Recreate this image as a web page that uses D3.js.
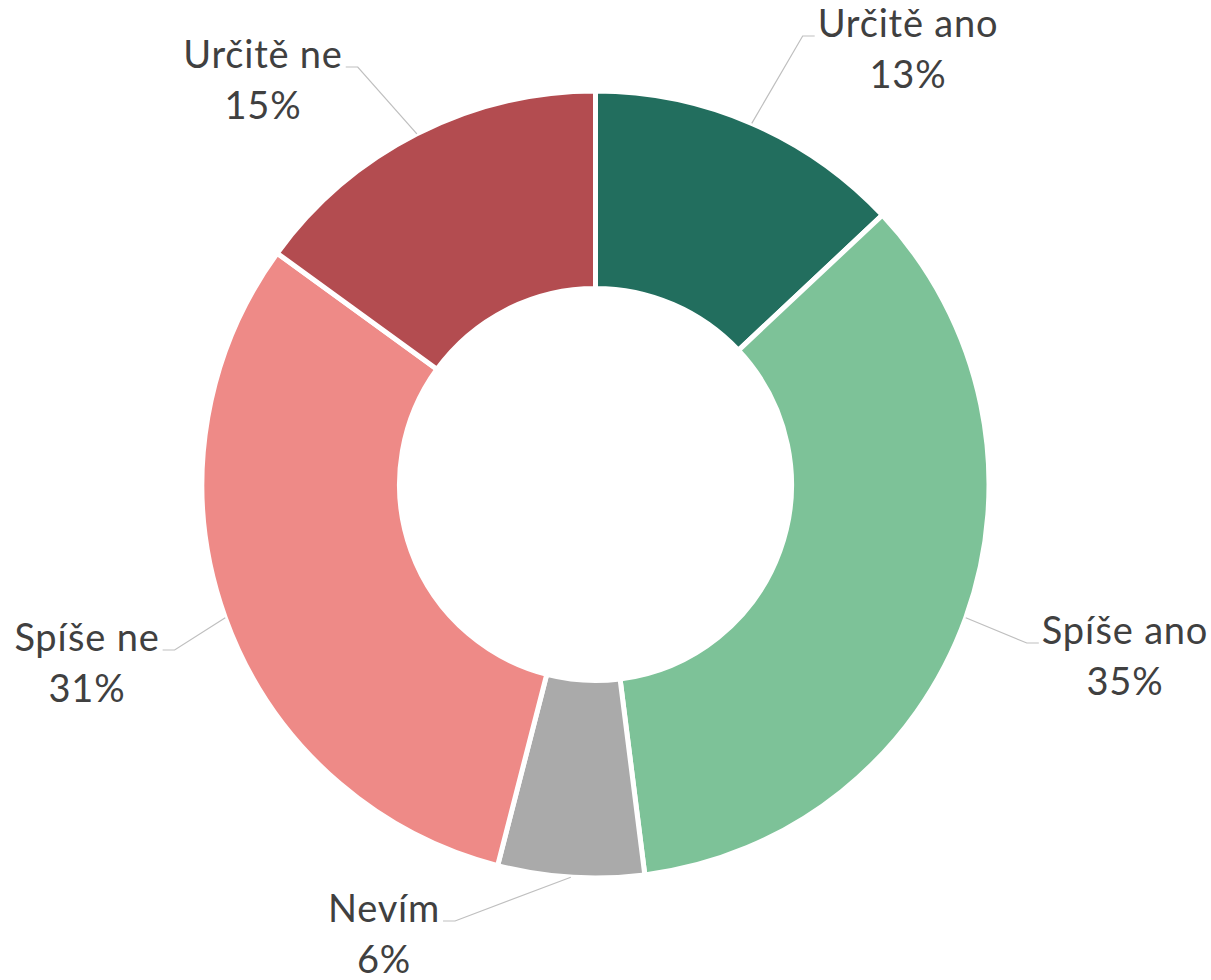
<!DOCTYPE html>
<html>
<head>
<meta charset="utf-8">
<script src="https://cdn.jsdelivr.net/npm/d3@7"></script>
<style>
  html, body { margin: 0; padding: 0; background: #fff; }
  svg { display: block; }
</style>
</head>
<body>
<svg id="chart" width="1211" height="980"></svg>
<script>
// ---- data ----
const categories = ["Určitě ano", "Spíše ano", "Nevím", "Spíše ne", "Určitě ne"];
const values = [13, 35, 6, 31, 15];
const percentLabels = ["13%", "35%", "6%", "31%", "15%"];
const colors = ["#226E5E", "#7DC298", "#AAAAAA", "#EE8A87", "#B34C50"];

// ---- layout (label anchors: centre x, first baseline, side of leader) ----
const labelLayout = [
  { cx: 908, y: 37, side: "right" },
  { cx: 1125, y: 644, side: "right" },
  { cx: 384, y: 922, side: "left" },
  { cx: 87, y: 651, side: "left" },
  { cx: 263, y: 68, side: "left" }
];

const W = 1211, H = 980;
const cx = 595.5, cy = 484.5;
const outerR = 393.5, innerR = 196;

const svg = d3.select("#chart");
const g = svg.append("g").attr("transform", `translate(${cx},${cy})`);

const pie = d3.pie().sort(null).value(d => d.v);
const data = categories.map((c, i) => ({ c, v: values[i], p: percentLabels[i], col: colors[i], i }));
const arcs = pie(data);
const arc = d3.arc().innerRadius(innerR).outerRadius(outerR);

g.selectAll("path.slice")
  .data(arcs)
  .join("path")
  .attr("class", "slice")
  .attr("d", arc)
  .attr("fill", d => d.data.col)
  .attr("stroke", "#fff")
  .attr("stroke-width", 5)
  .attr("stroke-linejoin", "miter");

// labels
const lab = svg.append("g");
arcs.forEach((a, i) => {
  const L = labelLayout[i];
  const t = lab.append("text")
    .attr("x", L.cx).attr("y", L.y)
    .attr("text-anchor", "middle")
    .attr("font-family", "Lato, 'Open Sans', sans-serif")
    .attr("font-size", 38)
    .attr("letter-spacing", 0.8)
    .attr("fill", "#404040");
  t.append("tspan").attr("x", L.cx).attr("y", L.y).text(a.data.c);
  t.append("tspan").attr("x", L.cx).attr("y", L.y + 51).text(a.data.p);

  const line1W = t.node().firstChild.getComputedTextLength();
  const mid = (a.startAngle + a.endAngle) / 2;
  const px = cx + outerR * Math.sin(mid);
  const py = cy - outerR * Math.cos(mid);
  const ly = L.y - 1;
  let endX, elbowX;
  if (L.side === "right") {
    endX = L.cx - line1W / 2 - 3;
    elbowX = endX - 12;
  } else {
    endX = L.cx + line1W / 2 + 3;
    elbowX = endX + 12;
  }
  lab.append("polyline")
    .attr("points", `${px},${py} ${elbowX},${ly} ${endX},${ly}`)
    .attr("fill", "none")
    .attr("stroke", "#BFBFBF")
    .attr("stroke-width", 1.2);
});
</script>
</body>
</html>
